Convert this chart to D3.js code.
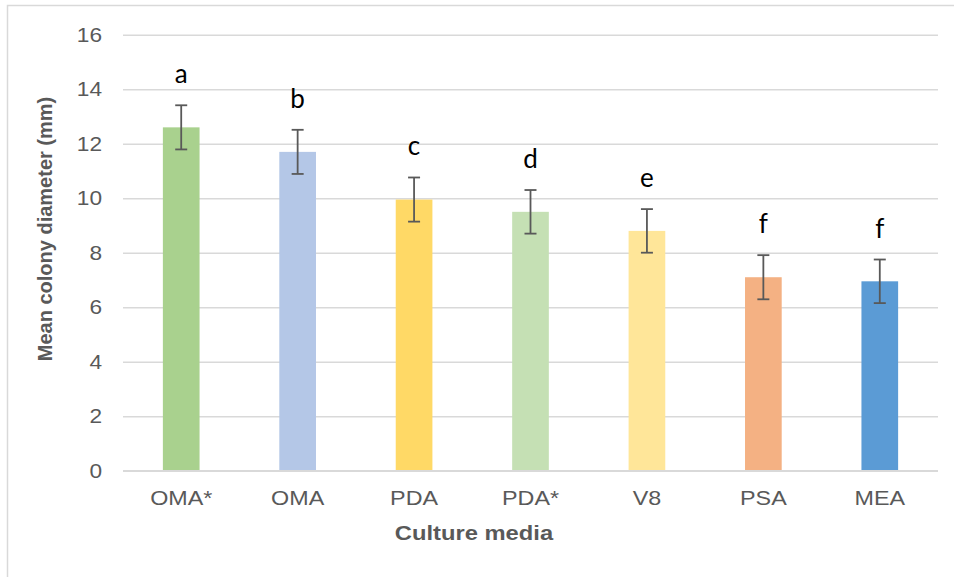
<!DOCTYPE html>
<html>
<head>
<meta charset="utf-8">
<script src="https://cdn.jsdelivr.net/npm/d3@7"></script>
<style>
  html, body { margin: 0; padding: 0; background: #fff; }
  svg { display: block; }
</style>
</head>
<body>
<svg id="chart" width="954" height="577"></svg>
<script>
// Mean colony diameter per culture medium, with standard-error bars and significance letters
const media = ["OMA*", "OMA", "PDA", "PDA*", "V8", "PSA", "MEA"];
const meanDiameter = [12.6, 11.7, 9.95, 9.5, 8.8, 7.1, 6.95];
const errorHalf = [0.81, 0.81, 0.81, 0.8, 0.8, 0.81, 0.8];
const groupLetters = ["a", "b", "c", "d", "e", "f", "f"];
const barColors = ["#a9d18e", "#b4c7e7", "#ffd966", "#c5e0b4", "#ffe699", "#f4b183", "#5b9bd5"];
const yTicks = [0, 2, 4, 6, 8, 10, 12, 14, 16];

const svg = d3.select("#chart");
const plot = { left: 123, right: 938, top: 34.7, bottom: 470.7 };
const TEXT_FONT = "'Liberation Sans', Arial, sans-serif";

// horizontal text is set slightly wide
function widen(sel, k) {
  sel.each(function () {
    const w = this.getComputedTextLength();
    d3.select(this).attr("textLength", w * k).attr("lengthAdjust", "spacingAndGlyphs");
  });
}

// outer chart border
svg.append("rect")
  .attr("x", 7.5).attr("y", 5.5)
  .attr("width", 1100).attr("height", 1100)
  .attr("fill", "#fff")
  .attr("stroke", "#d9d9d9").attr("stroke-width", 1.5);

const x = d3.scaleBand().domain(media).range([plot.left, plot.right]).paddingInner(0.685).paddingOuter(0.3425);
const y = d3.scaleLinear().domain([0, 16]).range([plot.bottom, plot.top]);

// gridlines and value labels
const yAxis = d3.axisLeft(y).tickValues(yTicks).tickSize(-(plot.right - plot.left)).tickPadding(21).tickFormat(d3.format("d"));
const gy = svg.append("g").attr("transform", `translate(${plot.left},0)`).call(yAxis);
gy.select(".domain").remove();
gy.selectAll(".tick line").attr("stroke", "#d9d9d9").attr("stroke-width", 1.6);
gy.selectAll(".tick text")
  .attr("fill", "#595959")
  .style("font-family", TEXT_FONT)
  .style("font-size", "21px")
  .call(widen, 1.08);

// bars
svg.append("g").selectAll("rect")
  .data(media)
  .join("rect")
  .attr("x", d => x(d))
  .attr("width", x.bandwidth())
  .attr("y", (d, i) => y(meanDiameter[i]))
  .attr("height", (d, i) => y(0) - y(meanDiameter[i]))
  .attr("fill", (d, i) => barColors[i]);

// baseline
svg.append("line")
  .attr("x1", plot.left).attr("x2", plot.right)
  .attr("y1", y(0)).attr("y2", y(0))
  .attr("stroke", "#d9d9d9").attr("stroke-width", 1.6);

// error bars
const eb = svg.append("g").attr("stroke", "#595959").attr("stroke-width", 1.8).attr("fill", "none");
media.forEach((m, i) => {
  const cx = x(m) + x.bandwidth() / 2;
  const hi = y(meanDiameter[i] + errorHalf[i]);
  const lo = y(meanDiameter[i] - errorHalf[i]);
  eb.append("line").attr("x1", cx).attr("x2", cx).attr("y1", hi).attr("y2", lo);
  eb.append("line").attr("x1", cx - 6).attr("x2", cx + 6).attr("y1", hi).attr("y2", hi);
  eb.append("line").attr("x1", cx - 6).attr("x2", cx + 6).attr("y1", lo).attr("y2", lo);
});

// significance letters
svg.append("g").selectAll("text")
  .data(media)
  .join("text")
  .attr("x", d => x(d) + x.bandwidth() / 2)
  .attr("y", (d, i) => y(meanDiameter[i] + errorHalf[i]) - 22)
  .attr("text-anchor", "middle")
  .attr("fill", "#000")
  .style("font-family", "Lato, 'Open Sans', sans-serif")
  .style("font-size", "26px")
  .text((d, i) => groupLetters[i]);

// category labels
const xAxis = d3.axisBottom(x).tickSize(0).tickPadding(19);
const gx = svg.append("g").attr("transform", `translate(0,${plot.bottom})`).call(xAxis);
gx.select(".domain").remove();
gx.selectAll(".tick text")
  .attr("fill", "#595959")
  .style("font-family", TEXT_FONT)
  .style("font-size", "21px")
  .call(widen, 1.11);

// axis titles
svg.append("text")
  .attr("x", 474).attr("y", 540)
  .attr("text-anchor", "middle")
  .attr("fill", "#595959")
  .style("font-family", TEXT_FONT)
  .style("font-weight", "bold")
  .style("font-size", "21px")
  .text("Culture media")
  .call(widen, 1.13);

svg.append("text")
  .attr("transform", "translate(52,229) rotate(-90)")
  .attr("text-anchor", "middle")
  .attr("fill", "#595959")
  .style("font-family", TEXT_FONT)
  .style("font-weight", "bold")
  .style("font-size", "20px")
  .text("Mean colony diameter (mm)");
</script>
</body>
</html>
